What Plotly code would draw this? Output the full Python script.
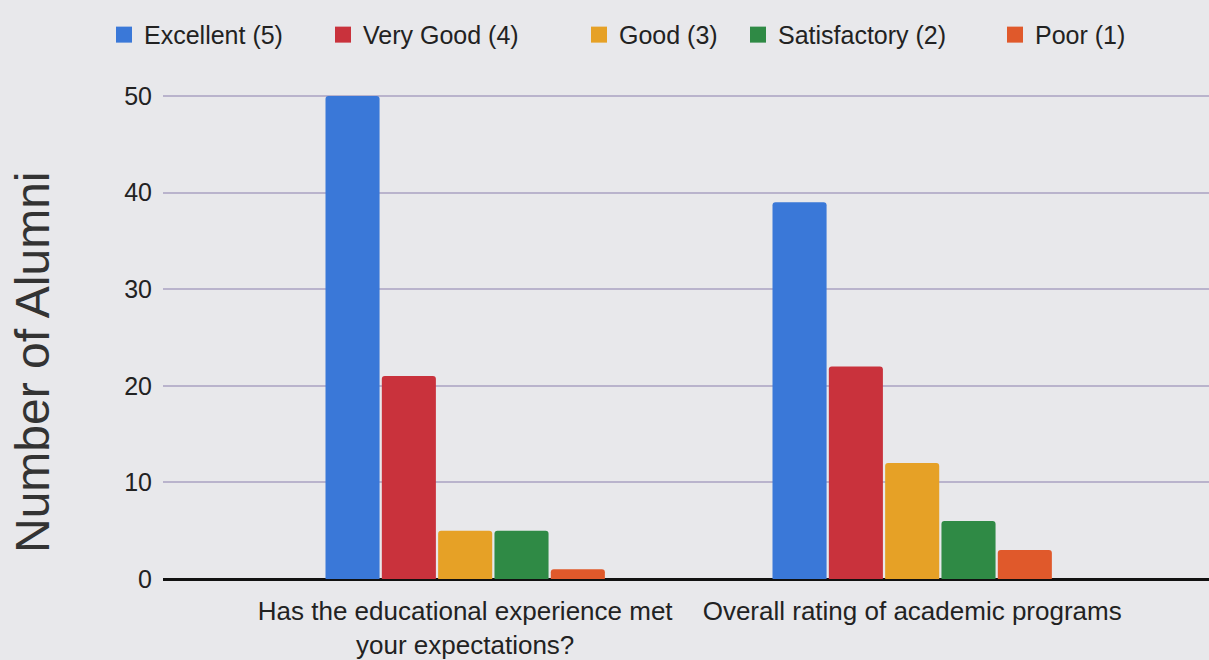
import plotly.graph_objects as go

categories = ["Has the educational experience met<br>your expectations?",
              "Overall rating of academic programs"]
series_names = ["Excellent (5)", "Very Good (4)", "Good (3)", "Satisfactory (2)", "Poor (1)"]
excellent = [50, 39]
very_good = [21, 22]
good = [5, 12]
satisfactory = [5, 6]
poor = [1, 3]
colors = ["#3a78d8", "#c9323c", "#e6a126", "#2f8a45", "#e0592b"]
y_ticks = [0, 10, 20, 30, 40, 50]
legend_x_px = [104, 323, 579, 738, 995]

values = [excellent, very_good, good, satisfactory, poor]
legend_ids = ["legend", "legend2", "legend3", "legend4", "legend5"]

fig = go.Figure()
for name, vals, col in zip(series_names, values, colors):
    fig.add_trace(go.Bar(x=categories, y=vals, name=name, legendgroup=name, showlegend=False,
                         marker=dict(color=col, line=dict(width=0), cornerradius=3)))
for name, col, lid in zip(series_names, colors, legend_ids):
    fig.add_trace(go.Scatter(x=[None], y=[None], mode="markers", name=name, legendgroup=name,
                             legend=lid, marker=dict(symbol="square", size=22, color=col)))

legend_common = dict(orientation="h", xref="container", y=0.982, yref="container",
                     yanchor="top", xanchor="left",
                     font=dict(size=25, color="#222222"), itemwidth=30,
                     bgcolor="rgba(0,0,0,0)")
layout_legends = {}
for lid, xp in zip(legend_ids, legend_x_px):
    layout_legends[lid] = dict(legend_common, x=xp / 1209)

fig.update_layout(
    width=1209, height=660,
    paper_bgcolor="#e8e8eb", plot_bgcolor="#e8e8eb",
    font=dict(family="Liberation Sans, Arial, sans-serif", color="#222222"),
    margin=dict(l=163, r=0, t=93, b=81),
    barmode="group", bargap=0.37, bargroupgap=0.04,
    showlegend=True,
    **layout_legends,
)
fig.update_xaxes(range=[-0.676, 1.664], tickfont=dict(size=26, color="#222222"),
                 showgrid=False, ticks="", showline=False, ticklabelstandoff=14)
fig.update_yaxes(range=[0, 50.3], tickvals=y_ticks,
                 showgrid=True, gridcolor="#b9b3cc", gridwidth=1.5,
                 zeroline=True, zerolinecolor="#111111", zerolinewidth=2.5,
                 tickfont=dict(size=25, color="#222222"), ticks="", ticklabelstandoff=10)
fig.add_annotation(text="Number of Alumni", textangle=-90, xref="paper", yref="paper",
                   x=(32 - 163) / 1046, y=(579 - 362) / 486, showarrow=False,
                   xanchor="center", yanchor="middle",
                   font=dict(size=48, color="#333333"))

fig.write_html("out.html", post_script="document.body.style.margin='0';",
               config={"displayModeBar": False})
